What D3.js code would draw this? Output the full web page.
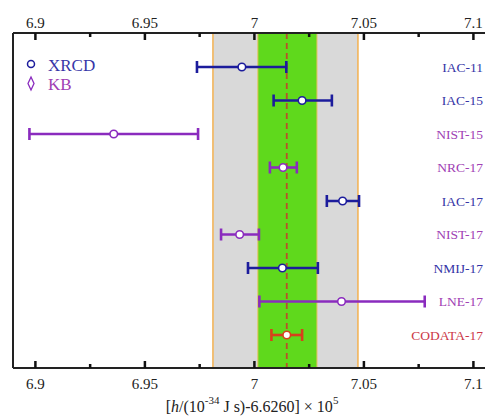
<!DOCTYPE html>
<html>
<head>
<meta charset="utf-8">
<script src="https://cdn.jsdelivr.net/npm/d3@7"></script>
<style>
  body { margin: 0; background: #fff; }
  text { font-family: "Liberation Serif", "DejaVu Serif", serif; }
</style>
</head>
<body>
<svg id="chart" width="485" height="419"></svg>
<script>
// measurements, in units of [h/(1e-34 J s) - 6.6260] x 1e5
var labels = ["IAC-11", "IAC-15", "NIST-15", "NRC-17", "IAC-17", "NIST-17", "NMIJ-17", "LNE-17", "CODATA-17"];
var methods = ["XRCD", "XRCD", "KB", "KB", "XRCD", "KB", "XRCD", "KB", "CODATA"];
var values = [6.9945, 7.022, 6.936, 7.0133, 7.0405, 6.9935, 7.013, 7.040, 7.0150];
var lows = [6.974, 7.009, 6.8975, 7.0073, 7.0333, 6.985, 6.9973, 7.0025, 7.008];
var highs = [7.0148, 7.0356, 6.9745, 7.0196, 7.048, 7.0023, 7.0292, 7.078, 7.022];

var majorTicks = [6.9, 6.95, 7, 7.05, 7.1];
var minorTicks = [6.925, 6.975, 7.025, 7.075];
var greyBand = [6.9813, 7.0475];
var greenBand = [7.0018, 7.0288];
var codataLine = 7.015;

var colors = { XRCD: "#1c1c9c", KB: "#8a2bbe", CODATA: "#d8401c" };
var labelColors = { XRCD: "#3434a6", KB: "#a040b4", CODATA: "#cc3848" };

var rows = labels.map((d, i) => ({ label: d, method: methods[i], v: values[i], lo: lows[i], hi: highs[i] }));

var svg = d3.select("#chart");
var mLeft = 13, mRight = 497, mTop = 33, mBottom = 368;

var x = d3.scaleLinear().domain([6.89, 7.111]).range([mLeft, mRight]);
var y = d3.scalePoint().domain(labels).range([67, 335]);

// bands
svg.append("rect")
    .attr("x", x(greyBand[0])).attr("y", mTop)
    .attr("width", x(greyBand[1]) - x(greyBand[0])).attr("height", mBottom - mTop)
    .attr("fill", "#d9d9d9");
greyBand.forEach(v => {
  svg.append("line")
      .attr("x1", x(v)).attr("x2", x(v)).attr("y1", mTop).attr("y2", mBottom)
      .attr("stroke", "#f2b45a").attr("stroke-width", 1.6);
});
svg.append("rect")
    .attr("x", x(greenBand[0])).attr("y", mTop)
    .attr("width", x(greenBand[1]) - x(greenBand[0])).attr("height", mBottom - mTop)
    .attr("fill", "#5fd91c");
greenBand.forEach(v => {
  svg.append("line")
      .attr("x1", x(v)).attr("x2", x(v)).attr("y1", mTop).attr("y2", mBottom)
      .attr("stroke", "#e8c060").attr("stroke-width", 1);
});
svg.append("line")
    .attr("x1", x(codataLine)).attr("x2", x(codataLine)).attr("y1", mTop).attr("y2", mBottom)
    .attr("stroke", "#b8502a").attr("stroke-width", 1.8).attr("stroke-dasharray", "6,4");

// error bars
var g = svg.selectAll("g.row").data(rows).enter().append("g")
    .attr("class", "row")
    .attr("transform", d => "translate(0," + y(d.label) + ")");

g.append("line")
    .attr("x1", d => x(d.lo)).attr("x2", d => x(d.hi))
    .attr("stroke", d => colors[d.method]).attr("stroke-width", 2.6);
g.append("line")
    .attr("x1", d => x(d.lo)).attr("x2", d => x(d.lo)).attr("y1", -6).attr("y2", 6)
    .attr("stroke", d => colors[d.method]).attr("stroke-width", 2.6);
g.append("line")
    .attr("x1", d => x(d.hi)).attr("x2", d => x(d.hi)).attr("y1", -6).attr("y2", 6)
    .attr("stroke", d => colors[d.method]).attr("stroke-width", 2.6);
g.append("circle")
    .attr("cx", d => x(d.v)).attr("r", 3.8)
    .attr("fill", "#fff").attr("stroke", d => colors[d.method]).attr("stroke-width", 1.6);

// row labels
g.append("text")
    .attr("x", 483).attr("dy", "0.35em")
    .attr("text-anchor", "end")
    .attr("font-size", 13.5)
    .attr("fill", d => labelColors[d.method])
    .text(d => d.label);

// frame
svg.append("line").attr("x1", mLeft).attr("x2", mRight).attr("y1", mTop).attr("y2", mTop)
    .attr("stroke", "#222").attr("stroke-width", 2);
svg.append("line").attr("x1", mLeft).attr("x2", mRight).attr("y1", mBottom).attr("y2", mBottom)
    .attr("stroke", "#222").attr("stroke-width", 2);
svg.append("line").attr("x1", mLeft).attr("x2", mLeft).attr("y1", mTop).attr("y2", mBottom)
    .attr("stroke", "#222").attr("stroke-width", 2);

// axes with inward ticks
var fmt = d => d3.format("")(d);
var bottomAxis = svg.append("g").attr("transform", "translate(0," + mBottom + ")")
    .call(d3.axisBottom(x).tickValues(majorTicks).tickSize(-7).tickPadding(10).tickFormat(fmt));
var topAxis = svg.append("g").attr("transform", "translate(0," + mTop + ")")
    .call(d3.axisTop(x).tickValues(majorTicks).tickSize(-7).tickPadding(5).tickFormat(fmt));
[bottomAxis, topAxis].forEach(a => {
  a.select(".domain").remove();
  a.selectAll(".tick line").attr("stroke", "#111").attr("stroke-width", 2.5);
  a.selectAll(".tick text").attr("font-size", 15).attr("fill", "#222")
      .attr("font-family", "Liberation Serif, serif");
});
svg.append("g").attr("transform", "translate(0," + mBottom + ")")
    .call(d3.axisBottom(x).tickValues(minorTicks).tickSize(-4).tickFormat(""))
    .call(a => a.select(".domain").remove())
    .selectAll(".tick line").attr("stroke", "#111").attr("stroke-width", 2.5);
svg.append("g").attr("transform", "translate(0," + mTop + ")")
    .call(d3.axisTop(x).tickValues(minorTicks).tickSize(-4).tickFormat(""))
    .call(a => a.select(".domain").remove())
    .selectAll(".tick line").attr("stroke", "#111").attr("stroke-width", 2.5);

// legend
svg.append("circle").attr("cx", 31).attr("cy", 64).attr("r", 3.5)
    .attr("fill", "none").attr("stroke", colors.XRCD).attr("stroke-width", 1.5);
svg.append("text").attr("x", 48).attr("y", 71).attr("font-size", 17)
    .attr("fill", "#3636a8").text("XRCD");
svg.append("path").attr("d", "M31,77 L34,83.5 L31,90 L28,83.5 Z")
    .attr("fill", "none").attr("stroke", colors.KB).attr("stroke-width", 1.3);
svg.append("text").attr("x", 48).attr("y", 90).attr("font-size", 17)
    .attr("fill", "#a040b4").text("KB");

// axis title
var title = svg.append("text").attr("x", 252).attr("y", 412)
    .attr("text-anchor", "middle").attr("font-size", 16).attr("fill", "#222");
title.append("tspan").text("[");
title.append("tspan").attr("font-style", "italic").text("h");
title.append("tspan").text("/(10");
title.append("tspan").attr("font-size", 11).attr("dy", -8).text("-34");
title.append("tspan").attr("dy", 8).text(" J s)-6.6260] \u00d7 10");
title.append("tspan").attr("font-size", 11).attr("dy", -8).text("5");
</script>
</body>
</html>
